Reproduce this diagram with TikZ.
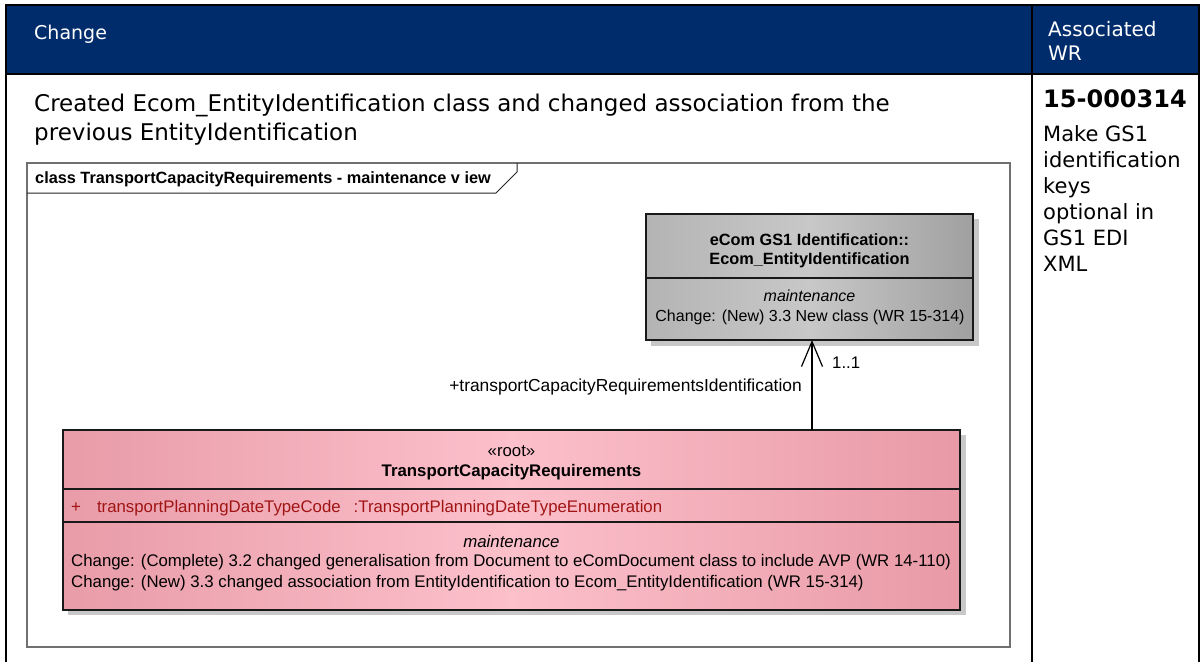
\documentclass[tikz,border=0pt]{standalone}
\usepackage{fontspec}
\setmainfont{Liberation Sans}
\newfontfamily\verd{DejaVu Sans}
\usetikzlibrary{arrows.meta}
\definecolor{navy}{RGB}{0,44,108}
\definecolor{attr}{RGB}{160,20,20}
\definecolor{framec}{RGB}{112,112,112}
\definecolor{shadowc}{RGB}{200,200,200}
\definecolor{pinkL}{RGB}{232,156,168}
\definecolor{pinkM}{RGB}{252,192,203}
\definecolor{pinkR}{RGB}{232,154,166}
\definecolor{greyL}{RGB}{180,180,180}
\definecolor{greyM}{RGB}{200,200,200}
\definecolor{greyR}{RGB}{160,160,160}
\tikzset{
  hdrtext/.style={text=white, font=\verd\fontsize{19}{24}\selectfont, anchor=north west, inner sep=0pt, align=left},
  bodytext/.style={font=\verd\fontsize{23}{29}\selectfont, anchor=north west, inner sep=0pt, align=left},
  wrtext/.style={font=\verd\fontsize{21}{26}\selectfont, anchor=north west, inner sep=0pt, align=left},
  umltext/.style={font=\fontsize{16.8}{21}\selectfont, inner sep=0pt},
  tblline/.style={line width=2pt, black},
  classline/.style={line width=1.4pt, black!90},
}
\begin{document}
\begin{tikzpicture}[x=1pt,y=-1pt]
\useasboundingbox (0,0) rectangle (1202,662);
\fill[white] (0,0) rectangle (1202,662);
% table
\fill[navy] (6,5) rectangle (1199,74);
\draw[tblline] (6,662) -- (6,5) -- (1199,5) -- (1199,662);
\draw[tblline] (6,74) -- (1199,74);
\draw[tblline] (1032,5) -- (1032,662);
\node[hdrtext] (hchange) at (34,25) {Change};
\node[hdrtext, font=\verd\fontsize{20}{24}\selectfont] (hwr) at (1048,21) {Associated\\WR};
\node[bodytext] (desc) at (34,94) {Created Ecom\_EntityIdentification class and changed association from the\\previous EntityIdentification};
\node[wrtext, font=\verd\bfseries\fontsize{24}{26}\selectfont] (wrnum) at (1043,89) {15-000314};
\node[wrtext] (wrdesc) at (1043,125) {Make GS1\\identification\\keys\\optional in\\GS1 EDI\\XML};
% frame
\draw[framec, line width=1.5pt] (27,163) rectangle (1010,647);
\draw[black!85, line width=1pt] (27,193) -- (496,193) -- (517,172) -- (517,163);
\node[umltext, font=\bfseries\fontsize{16.3}{19}\selectfont, anchor=west] (ftitle) at (35,179) {class TransportCapacityRequirements - maintenance v iew};
% grey class
\fill[shadowc] (651,219) rectangle (979,346);
\shade[left color=greyL, right color=greyR, middle color=greyM] (646,214) rectangle (973,340);
\draw[classline] (646,214) rectangle (973,340);
\draw[classline] (646,278) -- (973,278);
\node[umltext, font=\bfseries\fontsize{16.3}{19}\selectfont, align=center] (gname) at (809.5,251) {eCom GS1 Identification::\\Ecom\_EntityIdentification};
\node[umltext, font=\itshape\fontsize{16}{19}\selectfont] (gmaint) at (809.5,296) {maintenance};
\node[umltext, font=\fontsize{16}{19}\selectfont] (gchange) at (810,317) {Change: (New) 3.3 New class (WR 15-314)};
% pink class
\fill[shadowc] (68,435) rectangle (966,615);
\shade[left color=pinkL, right color=pinkR, middle color=pinkM] (63,430) rectangle (960,610);
\draw[classline] (63,430) rectangle (960,610);
\draw[classline] (63,489) -- (960,489);
\draw[classline] (63,522) -- (960,522);
\node[umltext] (pstereo) at (511.5,451) {«root»};
\node[umltext, font=\bfseries\fontsize{16.8}{19}\selectfont] (pname) at (511.5,472) {TransportCapacityRequirements};
\node[umltext, text=attr, anchor=west] (pattr) at (71,508) {+\hspace{16pt}transportPlanningDateTypeCode\hspace{13pt}:TransportPlanningDateTypeEnumeration};
\node[umltext, font=\itshape\fontsize{16.8}{19}\selectfont] (pmaint) at (511.5,541) {maintenance};
\node[umltext, anchor=west] (pch1) at (71,562) {Change: (Complete) 3.2 changed generalisation from Document to eComDocument class to include AVP (WR 14-110)};
\node[umltext, anchor=west] (pch2) at (71,583) {Change: (New) 3.3 changed association from EntityIdentification to Ecom\_EntityIdentification (WR 15-314)};
% association
\coordinate (src) at (812,430);
\coordinate (dst) at (812,340);
\draw[black, line width=1.2pt, -{Straight Barb[length=25pt,width=21pt,line width=1.2pt]}] (src) -- (dst);
\node[umltext, font=\fontsize{17.4}{21}\selectfont, anchor=east] (role) at (802,387) {+transportCapacityRequirementsIdentification};
\node[umltext, anchor=west] (mult) at (832,363) {1..1};
\end{tikzpicture}
\end{document}
